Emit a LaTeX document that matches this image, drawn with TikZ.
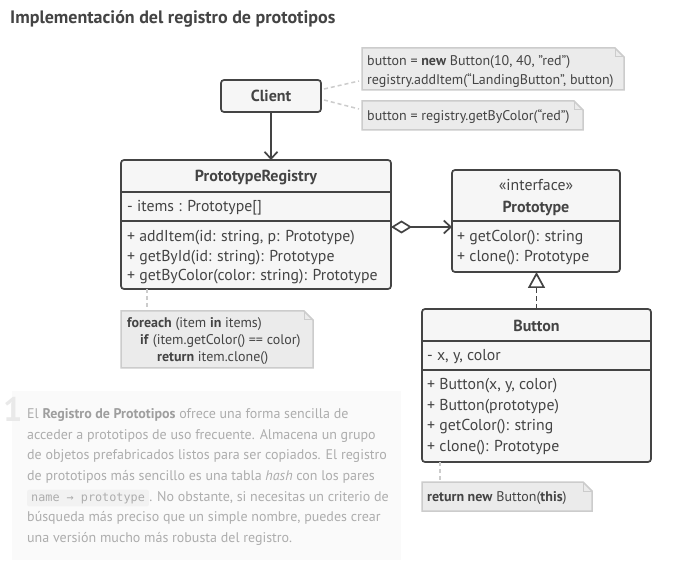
\documentclass[tikz,border=0pt]{standalone}
\usepackage{fontspec}
\setmainfont{PT Sans}
\setmonofont{DejaVu Sans Mono}
\usetikzlibrary{arrows.meta}
\definecolor{ink}{HTML}{444444}
\definecolor{boxfill}{HTML}{F6F6F6}
\definecolor{notefill}{HTML}{EBEBEB}
\definecolor{noteline}{HTML}{CCCCCC}
\definecolor{paratext}{HTML}{ADADAD}
\definecolor{parabold}{HTML}{9E9E9E}
\definecolor{parabg}{HTML}{FAFAFA}
\definecolor{codebg}{HTML}{F2F2F2}
\definecolor{bignum}{HTML}{E9E9E9}
\newcommand{\notepath}[1]{%
  \filldraw[fill=notefill,draw=noteline,line width=1.5pt] (#1.north west) -- ([xshift=-9pt]#1.north east) -- ([yshift=-9pt]#1.north east) -- (#1.south east) -- (#1.south west) -- cycle;
  \draw[draw=noteline,line width=1pt] ([xshift=-9pt]#1.north east) -- ([xshift=-9pt,yshift=-9pt]#1.north east) -- ([yshift=-9pt]#1.north east);}
\begin{document}
\begin{tikzpicture}[x=1pt,y=-1pt,
  umlbox/.style={draw=ink,fill=boxfill,line width=1.7pt,rounded corners=3pt,anchor=north west,inner sep=0pt,outer sep=0pt},
  notebox/.style={anchor=north west,inner sep=0pt,outer sep=0pt},
  sep/.style={draw=ink,line width=1.7pt},
  txt/.style={anchor=base west,inner sep=0pt,text=ink,font=\fontsize{15.8}{18}\selectfont},
  ctxt/.style={anchor=base,inner sep=0pt,text=ink,font=\fontsize{15.8}{18}\selectfont},
  htxt/.style={anchor=base,inner sep=0pt,text=ink,font=\fontsize{16}{19}\selectfont\bfseries},
  ntxt/.style={anchor=base west,inner sep=0pt,text=ink,font=\fontsize{14}{16}\selectfont},
  ptxt/.style={anchor=base west,inner sep=0pt,text=paratext,font=\fontsize{14}{16}\selectfont},
  link/.style={draw=ink,line width=1.7pt},
  notelink/.style={draw=noteline,line width=1.5pt,dash pattern=on 4pt off 3pt}]
\useasboundingbox (0,0) rectangle (689,564);
\fill[white] (0,0) rectangle (689,564);

% title
\node[anchor=base west,inner sep=0pt,text=ink,font=\fontsize{18}{21}\selectfont\bfseries] (title) at (10,24) {Implementación del registro de prototipos};

% boxes
\node[umlbox,minimum width=100pt,minimum height=32pt] (client) at (221,80) {};
\node[htxt] (clientt) at (271,101.5) {Client};

\node[umlbox,minimum width=270pt,minimum height=129pt] (reg) at (121,160) {};
\draw[sep] ([yshift=-32pt]reg.north west) -- ([yshift=-32pt]reg.north east);
\draw[sep] ([yshift=-61pt]reg.north west) -- ([yshift=-61pt]reg.north east);
\node[htxt] (regt) at (256,181.5) {PrototypeRegistry};
\node[txt] (rega) at (127,212) {- items : Prototype[]};
\node[txt] (regm1) at (127,242) {+ addItem(id: string, p: Prototype)};
\node[txt] (regm2) at (127,261.5) {+ getById(id: string): Prototype};
\node[txt] (regm3) at (127,281) {+ getByColor(color: string): Prototype};

\node[umlbox,minimum width=168pt,minimum height=102pt] (proto) at (452,170) {};
\draw[sep] ([yshift=-51pt]proto.north west) -- ([yshift=-51pt]proto.north east);
\node[ctxt] (protos) at (536,191) {«interface»};
\node[htxt] (protot) at (536,212.5) {Prototype};
\node[txt] (protom1) at (457,242) {+ getColor(): string};
\node[txt] (protom2) at (457,262) {+ clone(): Prototype};

\node[umlbox,minimum width=229pt,minimum height=153pt] (button) at (422,309) {};
\draw[sep] ([yshift=-32pt]button.north west) -- ([yshift=-32pt]button.north east);
\draw[sep] ([yshift=-61pt]button.north west) -- ([yshift=-61pt]button.north east);
\node[htxt] (buttont) at (536.5,331.5) {Button};
\node[txt] (buttona) at (427,361) {- x, y, color};
\node[txt] (buttonm1) at (427,390) {+ Button(x, y, color)};
\node[txt] (buttonm2) at (427,410) {+ Button(prototype)};
\node[txt] (buttonm3) at (427,430.5) {+ getColor(): string};
\node[txt] (buttonm4) at (427,451) {+ clone(): Prototype};

% notes
\node[notebox,minimum width=262pt,minimum height=42pt] (n1) at (362,48) {};
\notepath{n1}
\node[ntxt] (n1a) at (367,66) {button = \textbf{new} Button(10, 40, "red")};
\node[ntxt] (n1b) at (367,85) {registry.addItem(“LandingButton”, button)};

\node[notebox,minimum width=221pt,minimum height=29pt] (n2) at (362,101) {};
\notepath{n2}
\node[ntxt] (n2a) at (367,121) {button = registry.getByColor(“red”)};

\node[notebox,minimum width=192pt,minimum height=57pt] (n3) at (121,311) {};
\notepath{n3}
\node[ntxt] (n3a) at (127,328) {\textbf{foreach} (item \textbf{in} items)};
\node[ntxt] (n3b) at (140,345) {\textbf{if} (item.getColor() == color)};
\node[ntxt] (n3c) at (157,362) {\textbf{return} item.clone()};

\node[notebox,minimum width=170pt,minimum height=29pt] (n4) at (422,482) {};
\notepath{n4}
\node[ntxt] (n4a) at (427,501) {\textbf{return new} Button(\textbf{this})};

% connectors
\draw[notelink] ([xshift=3pt,yshift=7pt]client.east) -- ([xshift=-3pt,yshift=-12pt]n1.west);
\draw[notelink] ([xshift=3pt,yshift=-4pt]client.east) -- ([xshift=-3pt,yshift=6.5pt]n2.west);
\draw[notelink] ([xshift=26pt]reg.south west) -- ([xshift=26pt]n3.north west);
\draw[notelink] ([xshift=18pt]button.south west) -- ([xshift=18pt]n4.north west);

\draw[link,-{Straight Barb[length=7pt,width=13pt,line width=1.7pt]}] (client.south) -- (client.south |- reg.north);
\coordinate (aggy) at (0,227);
\draw[link,{Diamond[open,length=21pt,width=13pt,line width=1.7pt]}-{Straight Barb[length=7pt,width=13pt,line width=1.7pt]}] (reg.east |- aggy) -- (proto.west |- aggy);
\draw[link,dash pattern=on 5pt off 3pt,-{Triangle[open,length=16pt,width=17pt,line width=1.7pt]}] (button.north) -- (button.north |- proto.south);

% paragraph
\fill[parabg] (12,391) rectangle (401,560);
\node[anchor=base west,inner sep=0pt,text=bignum,font=\fontsize{34}{36}\selectfont\bfseries] (num) at (3,421) {1};
\node[ptxt] (p1) at (27,419) {El \textcolor{parabold}{\textbf{Registro de Prototipos}} ofrece una forma sencilla de};
\node[ptxt] (p2) at (27,439.5) {acceder a prototipos de uso frecuente. Almacena un grupo};
\node[ptxt] (p3) at (27,460) {de objetos prefabricados listos para ser copiados. El registro};
\node[ptxt] (p4) at (27,480.5) {de prototipos más sencillo es una tabla \textit{hash} con los pares};
\node[anchor=base west,fill=codebg,rounded corners=2pt,inner xsep=4pt,inner ysep=3pt,text=paratext,font=\fontsize{11.8}{14}\ttfamily] (code) at (27,501) {name → prototype};
\node[ptxt,anchor=base west] (p5) at (code.base east) {. No obstante, si necesitas un criterio de};
\node[ptxt] (p6) at (27,521.5) {búsqueda más preciso que un simple nombre, puedes crear};
\node[ptxt] (p7) at (27,542) {una versión mucho más robusta del registro.};
\end{tikzpicture}
\end{document}
